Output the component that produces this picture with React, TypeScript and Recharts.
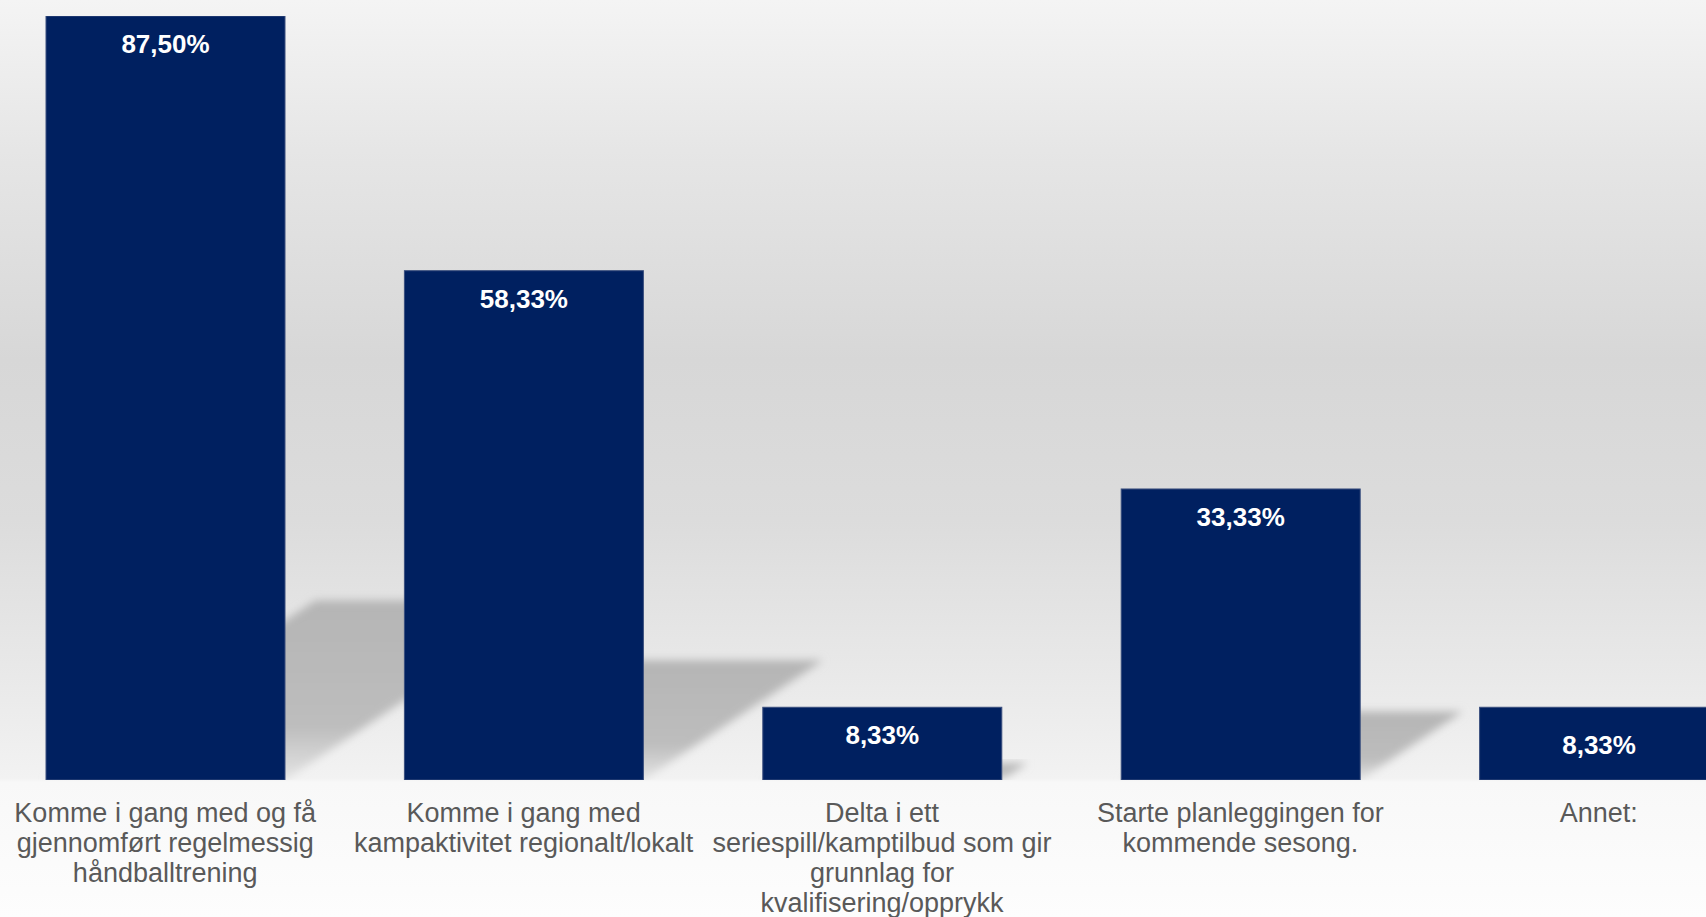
import { BarChart, Bar, XAxis, YAxis, LabelList } from 'recharts';

// Category labels, one entry per line as printed under each bar
const categories: string[][] = [
  ['Komme i gang med og få', 'gjennomført regelmessig', 'håndballtrening'],
  ['Komme i gang med', 'kampaktivitet regionalt/lokalt'],
  ['Delta i ett', 'seriespill/kamptilbud som gir', 'grunnlag for', 'kvalifisering/opprykk'],
  ['Starte planleggingen for', 'kommende sesong.'],
  ['Annet:'],
];

// Share of answers, percent
const shares = [87.5, 58.33, 8.33, 33.33, 8.33];

const data = categories.map((lines, i) => ({
  name: lines.join(' '),
  share: shares[i],
}));

const BAR_COLOR = '#002060';
const FONT = '"Liberation Sans", Arial, sans-serif';

const formatPct = (v: number) => `${v.toFixed(2).replace('.', ',')}%`;

// Bar body with a slanted floor shadow behind it
const BarWithShadow = (props: any) => {
  const { x, y, width, height } = props;
  const base = y + height;
  const sh = height * 0.235;
  const dx = sh * 1.5;
  const pts = `${x},${base} ${x + width},${base} ${x + width + dx},${base - sh} ${x + dx},${base - sh}`;
  return (
    <g>
      <polygon points={pts} fill="url(#shadowFill)" filter="url(#shadowBlur)" />
      <rect x={x} y={y} width={width} height={height} fill={BAR_COLOR} stroke="#3a4f7e" strokeWidth={1} />
    </g>
  );
};

const CategoryTick = (props: any) => {
  const { x, y, payload } = props;
  const lines = categories[payload.index] || [];
  return (
    <text x={x} y={y} textAnchor="middle" fill="#595959" fontFamily={FONT} fontSize={27}>
      {lines.map((line, i) => (
        <tspan key={i} x={x} dy={i === 0 ? 42 : 30}>
          {line}
        </tspan>
      ))}
    </text>
  );
};

const ValueLabel = (props: any) => {
  const { x, y, width, height, value, index } = props;
  const last = index === shares.length - 1;
  const ty = last ? y + height / 2 + 10 : y + 37;
  return (
    <text x={x + width / 2} y={ty} textAnchor="middle" fill="#ffffff" fontFamily={FONT} fontSize={26} fontWeight="bold">
      {formatPct(value)}
    </text>
  );
};

export default function App() {
  return (
    <div
      style={{
        position: 'fixed',
        left: 0,
        top: 0,
        width: 1706,
        height: 917,
        overflow: 'hidden',
        background:
          'linear-gradient(to bottom, #f4f4f4 0px, #e6e6e6 150px, #d7d7d7 360px, #dcdcdc 520px, #ebebeb 700px, #f2f2f2 778px, #f8f8f8 782px, #fdfdfd 917px)',
      }}
    >
      <div style={{ position: 'absolute', left: -14, top: 0 }}>
        <BarChart
          width={1792}
          height={917}
          data={data}
          barSize={239}
          margin={{ top: 16, right: 0, bottom: 0, left: 0 }}
        >
          <defs>
            <linearGradient id="shadowFill" x1="0" y1="0" x2="0" y2="1">
              <stop offset="0%" stopColor="#b5b5b5" />
              <stop offset="70%" stopColor="#bdbdbd" />
              <stop offset="100%" stopColor="#e4e4e4" />
            </linearGradient>
            <filter id="shadowBlur" x="-20%" y="-20%" width="140%" height="140%">
              <feGaussianBlur stdDeviation="4" />
            </filter>
          </defs>
          <XAxis
            dataKey="name"
            height={137}
            axisLine={false}
            tickLine={false}
            tickSize={0}
            tickMargin={0}
            interval={0}
            tick={<CategoryTick />}
          />
          <YAxis hide domain={[0, 87.5]} allowDataOverflow />
          <Bar dataKey="share" shape={<BarWithShadow />} isAnimationActive={false}>
            <LabelList dataKey="share" content={<ValueLabel />} />
          </Bar>
        </BarChart>
      </div>
    </div>
  );
}
